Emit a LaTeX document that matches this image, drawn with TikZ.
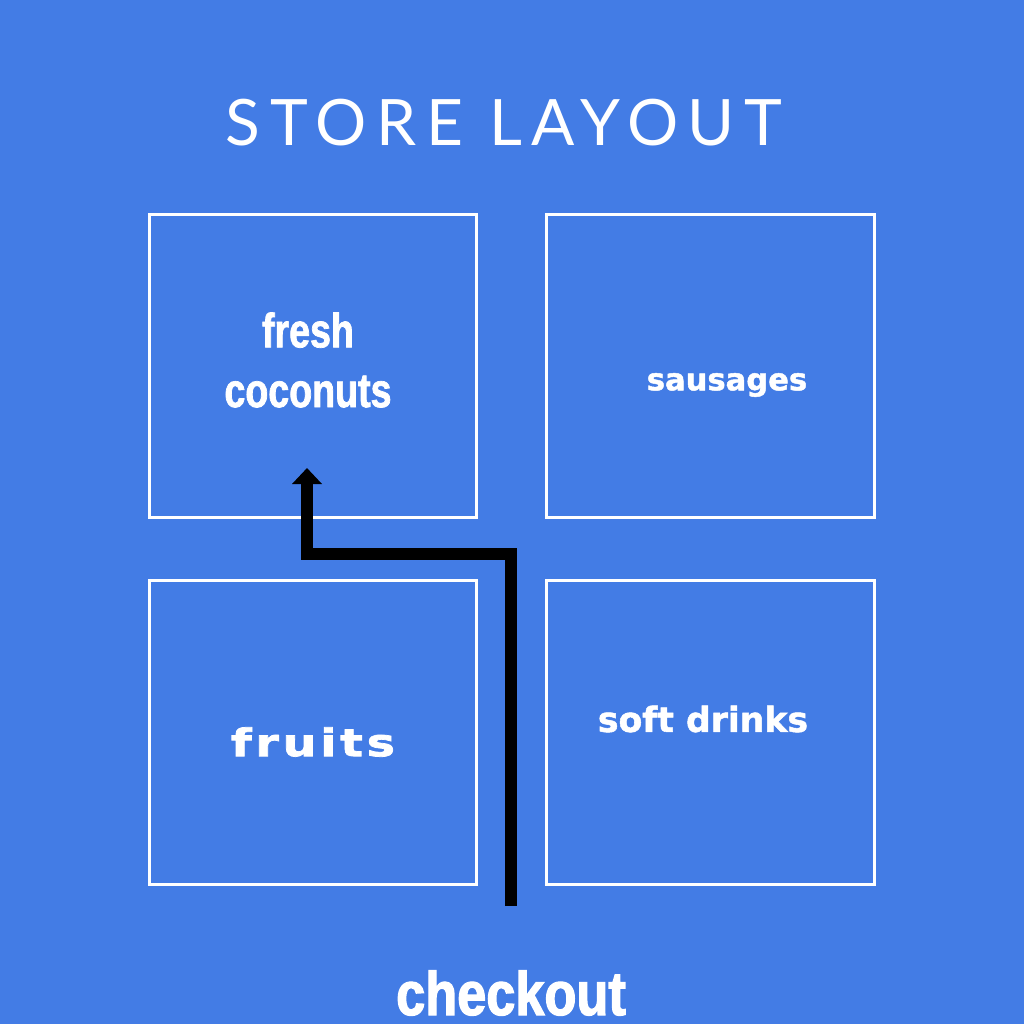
\documentclass[tikz,border=0pt]{standalone}
\usepackage{fontspec}
\usetikzlibrary{arrows.meta}
\newfontfamily\titlefont{Lato}[LetterSpace=15]
\newfontfamily\heavyfont{DejaVu Sans}[FakeBold=1.5]
\newfontfamily\widefont{DejaVu Sans}[FakeStretch=1.25, LetterSpace=10, FakeBold=2]
\newfontfamily\narrowfont{Liberation Sans}[FakeStretch=0.78, FakeBold=1.5]
\newfontfamily\checkfont{Liberation Sans}[FakeStretch=0.85, FakeBold=2]
\tikzset{
  aislebox/.style={draw=white, line width=0.03cm, minimum width=3.27cm, minimum height=3.03cm, inner sep=0pt},
  aislelabel/.style={white, align=center, inner sep=0pt},
  route/.style={line width=0.12cm, black, line join=miter, -{Triangle[width=0.29cm, length=0.16cm]}}
}
\begin{document}
\begin{tikzpicture}[x=0.01cm, y=-0.01cm]
    % Couleurs
    \definecolor{storeBlue}{RGB}{67,124,229}

    % Fond
    \fill[storeBlue] (0,0) rectangle (1024,1024);
    \useasboundingbox (0,0) rectangle (1024,1024);

    % Titre
    \node[white, inner sep=0pt, font=\titlefont\fontsize{18.2}{22}\selectfont] (title) at (504,123) {STORE LAYOUT};

    % Rayons
    \node[aislebox] (coconutsbox) at (313,366) {};
    \node[aislebox] (sausagesbox) at (710.5,366) {};
    \node[aislebox, minimum height=3.04cm] (fruitsbox) at (313,732.5) {};
    \node[aislebox, minimum height=3.04cm] (drinksbox) at (710.5,732.5) {};

    % Etiquettes
    \node[aislelabel, font=\narrowfont\bfseries\fontsize{13.7}{17}\selectfont] (coconuts) at (308,360) {fresh\\coconuts};
    \node[aislelabel, font=\heavyfont\bfseries\fontsize{8.7}{10}\selectfont] (sausages) at (727,385) {sausages};
    \node[aislelabel, font=\widefont\bfseries\fontsize{10.8}{13}\selectfont] (fruits) at (313,742) {fruits};
    \node[aislelabel, font=\heavyfont\bfseries\fontsize{9.85}{12}\selectfont] (drinks) at (703,719) {soft drinks};
    \node[aislelabel, font=\checkfont\bfseries\fontsize{17.5}{20}\selectfont] (checkout) at (511,993) {checkout};

    % Parcours
    \coordinate (start) at (511,906);
    \coordinate (turn) at (307,554);
    \coordinate (tip) at (307,468);
    \draw[route] (start) |- (turn) -- (tip);
\end{tikzpicture}
\end{document}
